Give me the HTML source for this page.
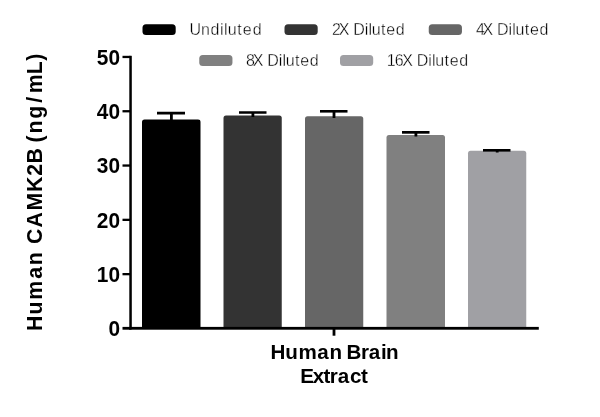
<!DOCTYPE html>
<html>
<head>
<meta charset="utf-8">
<title>Human CAMK2B linearity of dilution</title>
<style>
html,body{margin:0;padding:0;background:#fff;}
body{width:600px;height:417px;overflow:hidden;}
svg{display:block;}
.lg{font-family:"Liberation Sans",sans-serif;font-size:16px;fill:#000;stroke:#fff;stroke-width:0.35px;}
.b{font-family:"Liberation Sans",sans-serif;font-weight:bold;fill:#000;}
</style>
</head>
<body>
<svg width="600" height="417" viewBox="0 0 600 417">
<rect width="600" height="417" fill="#fff"/>

<!-- legend -->
<rect x="142.5" y="24.2" width="33.2" height="10.8" rx="3.5" fill="#000"/>
<text class="lg" y="35.3" x="189.47 201.11 210.6 220.03 223.96 227.75 237.22 242.73 252.67">Undiluted</text>
<rect x="284.5" y="24.2" width="33.2" height="10.8" rx="3.5" fill="#333"/>
<text class="lg" y="35.3" x="331.98 338.72 349.39 353.16 364.69 368.42 371.71 381.07 386.23 395.86">2X Diluted</text>
<rect x="428.75" y="24.2" width="33.2" height="10.8" rx="3.5" fill="#666"/>
<text class="lg" y="35.3" x="475.97 482.47 493.14 496.91 508.44 512.17 515.46 524.82 529.98 539.61">4X Diluted</text>
<rect x="199.25" y="55.1" width="33.2" height="10.8" rx="3.5" fill="#808080"/>
<text class="lg" y="66.1" x="246.05 252.72 263.39 267.16 278.69 282.42 285.71 295.07 300.23 309.86">8X Diluted</text>
<rect x="340" y="55.1" width="33.2" height="10.8" rx="3.5" fill="#a0a0a4"/>
<text class="lg" y="66.1" x="386.76 394.8 402.22 412.89 416.66 428.19 431.92 435.21 444.57 449.73 459.36">16X Diluted</text>

<!-- bars -->
<path d="M142 328 V122 a2.5 2.5 0 0 1 2.5 -2.5 H198 a2.5 2.5 0 0 1 2.5 2.5 V328 Z" fill="#000"/>
<path d="M223.5 328 V118 a2.5 2.5 0 0 1 2.5 -2.5 H279.25 a2.5 2.5 0 0 1 2.5 2.5 V328 Z" fill="#333"/>
<path d="M305 328 V118.75 a2.5 2.5 0 0 1 2.5 -2.5 H360.75 a2.5 2.5 0 0 1 2.5 2.5 V328 Z" fill="#666"/>
<path d="M386.5 328 V137.5 a2.5 2.5 0 0 1 2.5 -2.5 H442.5 a2.5 2.5 0 0 1 2.5 2.5 V328 Z" fill="#808080"/>
<path d="M468 328 V153.25 a2.5 2.5 0 0 1 2.5 -2.5 H523.75 a2.5 2.5 0 0 1 2.5 2.5 V328 Z" fill="#a0a0a4"/>

<!-- error bars -->
<g fill="#000">
<rect x="157" y="111.75" width="28" height="2.75"/><rect x="170" y="112" width="2.8" height="9"/>
<rect x="239" y="111.25" width="27.5" height="2.5"/><rect x="251.5" y="112" width="2.8" height="5"/>
<rect x="320" y="110" width="27.5" height="2.6"/><rect x="332.6" y="111" width="2.8" height="7"/>
<rect x="402" y="131" width="27.5" height="2.7"/><rect x="414.5" y="132" width="2.8" height="4.5"/>
<rect x="483" y="149" width="27.5" height="2.6"/><rect x="495.8" y="149" width="2.8" height="3.5"/>
</g>

<!-- axes -->
<g fill="#000">
<rect x="129.3" y="55.8" width="2.5" height="273.7"/>
<rect x="129.3" y="326.9" width="409.5" height="2.8"/>
<rect x="122.5" y="55.8" width="8" height="2.3"/>
<rect x="122.5" y="110.1" width="8" height="2.3"/>
<rect x="122.5" y="164.4" width="8" height="2.3"/>
<rect x="122.5" y="218.7" width="8" height="2.3"/>
<rect x="122.5" y="273" width="8" height="2.3"/>
<rect x="122.5" y="326.9" width="8" height="2.8"/>
<rect x="332.6" y="328" width="2.8" height="7.7"/>
</g>

<!-- y tick labels -->
<g class="b" font-size="21.6" text-anchor="end">
<text x="120" y="64.6" textLength="23.2" lengthAdjust="spacingAndGlyphs">50</text>
<text x="120" y="118.9" textLength="23.2" lengthAdjust="spacingAndGlyphs">40</text>
<text x="120" y="173.2" textLength="23.2" lengthAdjust="spacingAndGlyphs">30</text>
<text x="120" y="227.5" textLength="23.2" lengthAdjust="spacingAndGlyphs">20</text>
<text x="120" y="281.8" textLength="23.2" lengthAdjust="spacingAndGlyphs">10</text>
<text x="120" y="336.1" textLength="11.6" lengthAdjust="spacingAndGlyphs">0</text>
</g>

<!-- y title -->
<text class="b" font-size="22.4" transform="translate(41.7,329.2) rotate(-90) scale(0.95,1)" x="-1.78 15.58 31.02 53.06 67.45 81.13 89.7 107.0 125.0 144.34 161.51 174.53 190.71 196.61 206.08 221.46 238.47 248.35 268.48 282.68">Human CAMK2B (ng/mL)</text>

<!-- x labels -->
<text class="b" font-size="20.6" y="358.7" x="270.55 285.23 298.41 317.32 329.5 342.04 346.47 360.88 368.75 381.08 386.12">Human Brain</text>
<text class="b" font-size="20.6" y="382.8" x="300.25 312.86 323.59 329.81 337.67 349.88 361.0">Extract</text>
</svg>
</body>
</html>
